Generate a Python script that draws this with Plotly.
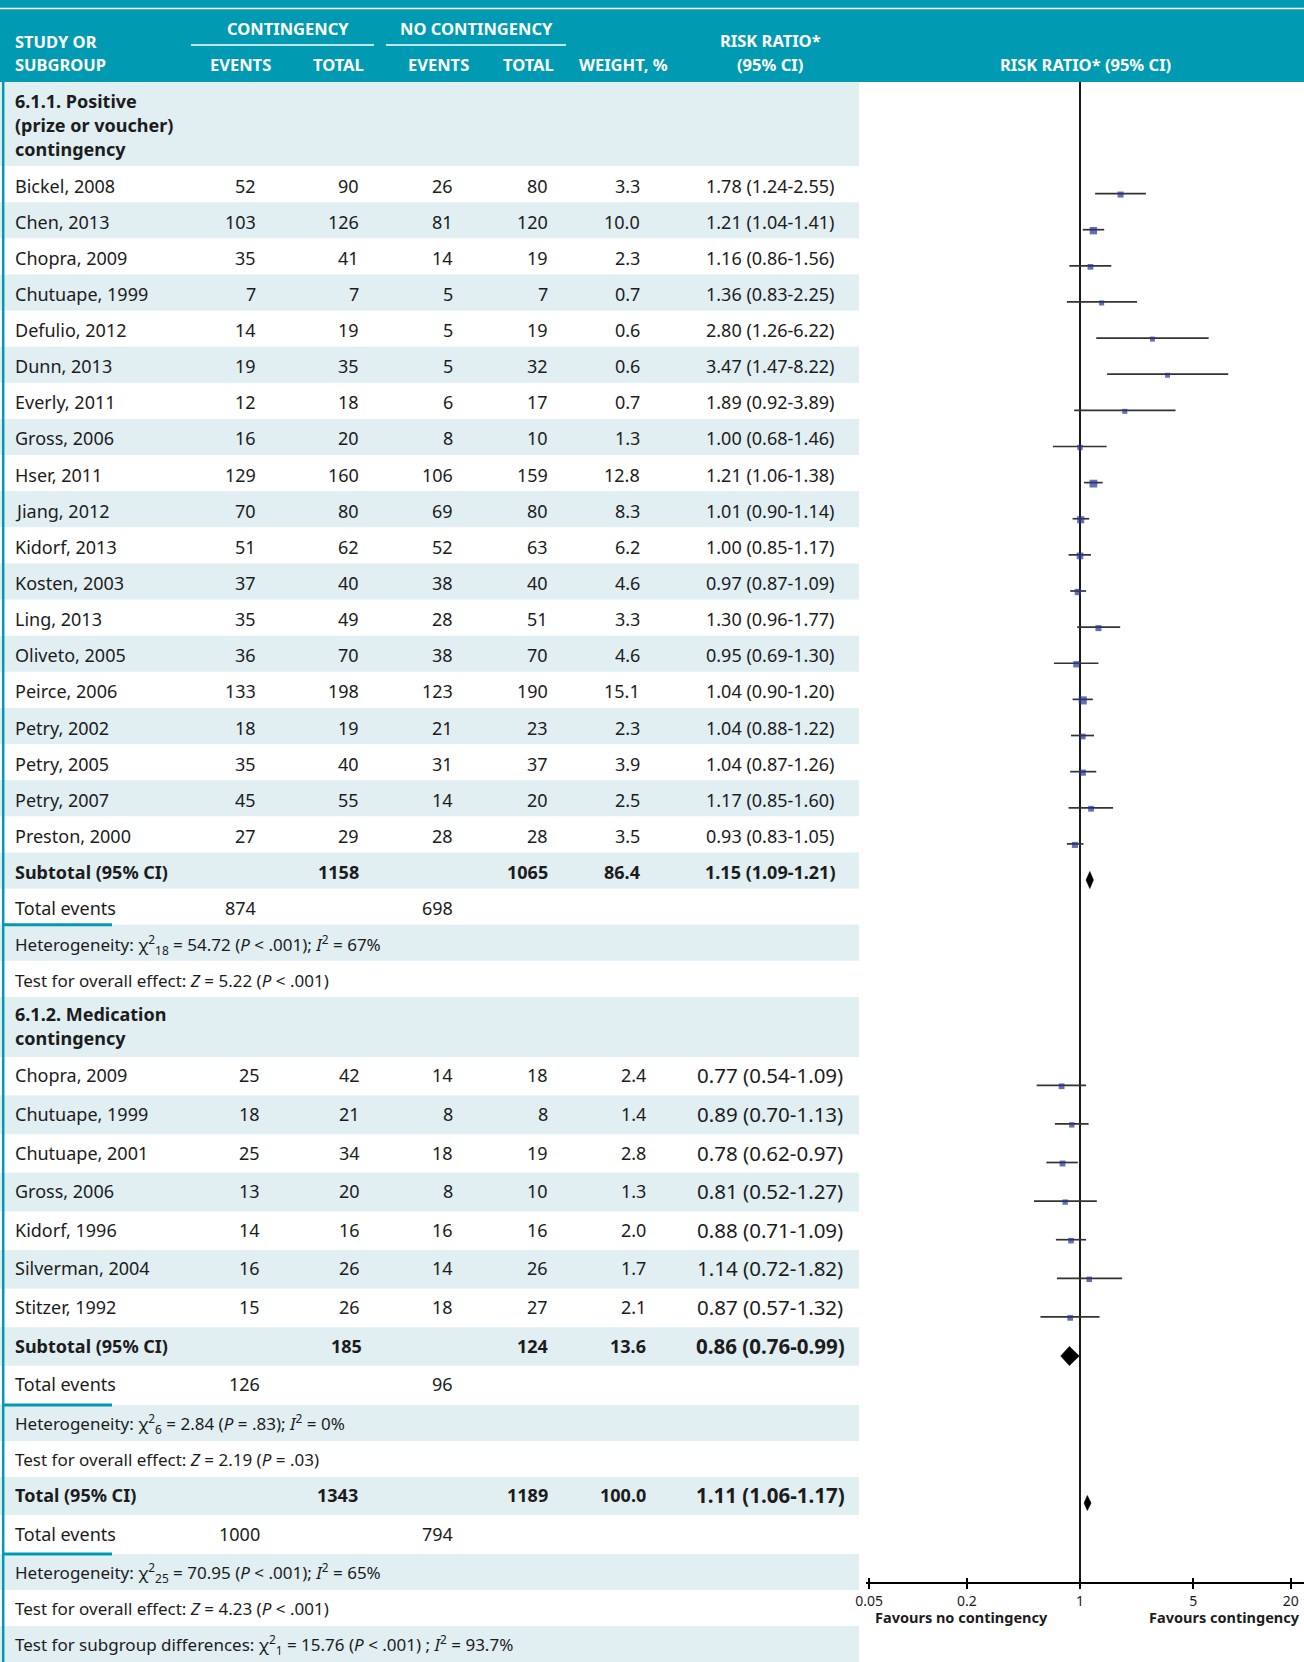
import math
import plotly.graph_objects as go

W, H = 1304, 1662
TEAL = "#009bb2"
BAND = "#e1eef2"
TXT = "#1c1c1c"
MARK = "#25338f"
FONT = "Noto Sans"

# ---------------- data ----------------
s1_study = ["Bickel, 2008", "Chen, 2013", "Chopra, 2009", "Chutuape, 1999", "Defulio, 2012",
            "Dunn, 2013", "Everly, 2011", "Gross, 2006", "Hser, 2011", "Jiang, 2012",
            "Kidorf, 2013", "Kosten, 2003", "Ling, 2013", "Oliveto, 2005", "Peirce, 2006",
            "Petry, 2002", "Petry, 2005", "Petry, 2007", "Preston, 2000"]
s1_ev_c = [52, 103, 35, 7, 14, 19, 12, 16, 129, 70, 51, 37, 35, 36, 133, 18, 35, 45, 27]
s1_tot_c = [90, 126, 41, 7, 19, 35, 18, 20, 160, 80, 62, 40, 49, 70, 198, 19, 40, 55, 29]
s1_ev_n = [26, 81, 14, 5, 5, 5, 6, 8, 106, 69, 52, 38, 28, 38, 123, 21, 31, 14, 28]
s1_tot_n = [80, 120, 19, 7, 19, 32, 17, 10, 159, 80, 63, 40, 51, 70, 190, 23, 37, 20, 28]
s1_weight = [3.3, 10.0, 2.3, 0.7, 0.6, 0.6, 0.7, 1.3, 12.8, 8.3, 6.2, 4.6, 3.3, 4.6, 15.1, 2.3, 3.9, 2.5, 3.5]
s1_rr = [1.78, 1.21, 1.16, 1.36, 2.80, 3.47, 1.89, 1.00, 1.21, 1.01, 1.00, 0.97, 1.30, 0.95, 1.04, 1.04, 1.04, 1.17, 0.93]
s1_lo = [1.24, 1.04, 0.86, 0.83, 1.26, 1.47, 0.92, 0.68, 1.06, 0.90, 0.85, 0.87, 0.96, 0.69, 0.90, 0.88, 0.87, 0.85, 0.83]
s1_hi = [2.55, 1.41, 1.56, 2.25, 6.22, 8.22, 3.89, 1.46, 1.38, 1.14, 1.17, 1.09, 1.77, 1.30, 1.20, 1.22, 1.26, 1.60, 1.05]

s2_study = ["Chopra, 2009", "Chutuape, 1999", "Chutuape, 2001", "Gross, 2006",
            "Kidorf, 1996", "Silverman, 2004", "Stitzer, 1992"]
s2_ev_c = [25, 18, 25, 13, 14, 16, 15]
s2_tot_c = [42, 21, 34, 20, 16, 26, 26]
s2_ev_n = [14, 8, 18, 8, 16, 14, 18]
s2_tot_n = [18, 8, 19, 10, 16, 26, 27]
s2_weight = [2.4, 1.4, 2.8, 1.3, 2.0, 1.7, 2.1]
s2_rr = [0.77, 0.89, 0.78, 0.81, 0.88, 1.14, 0.87]
s2_lo = [0.54, 0.70, 0.62, 0.52, 0.71, 0.72, 0.57]
s2_hi = [1.09, 1.13, 0.97, 1.27, 1.09, 1.82, 1.32]

# subtotal / total: [tot_c, tot_n, weight, rr, lo, hi, events_c, events_n]
sub1 = [1158, 1065, 86.4, 1.15, 1.09, 1.21, 874, 698]
sub2 = [185, 124, 13.6, 0.86, 0.76, 0.99, 126, 96]
total = [1343, 1189, 100.0, 1.11, 1.06, 1.17, 1000, 794]

het1 = "Heterogeneity: χ<sup>2</sup><sub>18</sub> = 54.72 (<i>P</i> &lt; .001); <i>I</i><sup>2</sup> = 67%"
test1 = "Test for overall effect: <i>Z</i> = 5.22 (<i>P</i> &lt; .001)"
het2 = "Heterogeneity: χ<sup>2</sup><sub>6</sub> = 2.84 (<i>P</i> = .83); <i>I</i><sup>2</sup> = 0%"
test2 = "Test for overall effect: <i>Z</i> = 2.19 (<i>P</i> = .03)"
het_t = "Heterogeneity: χ<sup>2</sup><sub>25</sub> = 70.95 (<i>P</i> &lt; .001); <i>I</i><sup>2</sup> = 65%"
test_t = "Test for overall effect: <i>Z</i> = 4.23 (<i>P</i> &lt; .001)"
subgrp = "Test for subgroup differences: χ<sup>2</sup><sub>1</sub> = 15.76 (<i>P</i> &lt; .001) ; <i>I</i><sup>2</sup> = 93.7%"

tick_vals = [0.05, 0.2, 1, 5, 20]
tick_text = ["0.05", "0.2", "1", "5", "20"]

# ---------------- helpers ----------------
shapes, ann = [], []


def px(x):
    return x / W


def py(y):
    return 1 - y / H


def rect(x0, y0, x1, y1, color):
    shapes.append(dict(type="rect", xref="paper", yref="paper", x0=px(x0), x1=px(x1),
                       y0=py(y1), y1=py(y0), fillcolor=color, line=dict(width=0), layer="below"))


def hline(x0, x1, y, color, width):
    shapes.append(dict(type="line", xref="paper", yref="paper", x0=px(x0), x1=px(x1),
                       y0=py(y), y1=py(y), line=dict(color=color, width=width)))


BODY = 18


def text(x, y, s, anchor="left", size=BODY, bold=False, color=TXT):
    if bold:
        s = "<b>" + s + "</b>"
    ann.append(dict(xref="paper", yref="paper", x=px(x), y=py(y), text=s, showarrow=False,
                    xanchor=anchor, yanchor="middle", borderpad=0,
                    font=dict(family=FONT, size=size, color=color)))


def fmt_rr(r, l, h):
    return f"{r:.2f} ({l:.2f}-{h:.2f})"


TABLE_R = 859
RR_CX = 770
STAT = 17
DY = 1.5  # visual centring of body text

# ---------------- header ----------------
rect(0, 0, W, 82, TEAL)
hline(0, W, 8.5, "white", 1.5)
HS = 16.5
text(14, 41.5, "STUDY OR", size=HS, bold=True, color="white")
text(14, 64.5, "SUBGROUP", size=HS, bold=True, color="white")
text(288, 29, "CONTINGENCY", "center", HS, True, "white")
text(476, 29, "NO CONTINGENCY", "center", HS, True, "white")
hline(191, 374, 45, "white", 1.5)
hline(386, 566, 45, "white", 1.5)
for cx, lab in [(241, "EVENTS"), (338, "TOTAL"), (438, "EVENTS"), (528, "TOTAL"), (623, "WEIGHT, %")]:
    text(cx, 64.5, lab, "center", HS, True, "white")
text(RR_CX, 40, "RISK RATIO*", "center", HS, True, "white")
text(RR_CX, 64.5, "(95% CI)", "center", HS, True, "white")
text(1085, 64.5, "RISK RATIO* (95% CI)", "center", HS, True, "white")

# ---------------- section 1 ----------------
R1 = 36.13
LX = 14
rect(0, 82, TABLE_R, 166, BAND)
text(LX, 101, "6.1.1. Positive", bold=True)
text(LX, 125, "(prize or voucher)", bold=True)
text(LX, 149.5, "contingency", bold=True)

ci_x, ci_y, mk_x, mk_y, mk_s = [], [], [], [], []
C1 = [257, 360, 454, 549, 641]
for i, name in enumerate(s1_study):
    y0 = 166 + i * R1
    if i % 2 == 1:
        rect(0, y0, TABLE_R, y0 + R1, BAND)
    yc = y0 + R1 / 2
    yt = yc + DY
    text(LX, yt, name)
    for cx, v in zip(C1, [s1_ev_c[i], s1_tot_c[i], s1_ev_n[i], s1_tot_n[i]]):
        text(cx, yt, str(v), "right")
    text(C1[4], yt, f"{s1_weight[i]:.1f}", "right")
    text(RR_CX, yt, fmt_rr(s1_rr[i], s1_lo[i], s1_hi[i]), "center")
    ym = yc + 9.5
    ci_x += [s1_lo[i], s1_hi[i], None]
    ci_y += [ym, ym, None]
    mk_x.append(s1_rr[i])
    mk_y.append(ym + 1)
    mk_s.append(4.2 + 1.0 * math.sqrt(s1_weight[i]))

k = len(s1_study)
y0 = 166 + k * R1
rect(0, y0, TABLE_R, y0 + R1, BAND)
yc_sub1 = y0 + R1 / 2
yt = yc_sub1 + DY
text(LX, yt, "Subtotal (95% CI)", bold=True)
text(C1[1], yt, str(sub1[0]), "right", bold=True)
text(C1[3], yt, str(sub1[1]), "right", bold=True)
text(C1[4], yt, f"{sub1[2]:.1f}", "right", bold=True)
text(RR_CX, yt, fmt_rr(sub1[3], sub1[4], sub1[5]), "center", bold=True)
y0 += R1
yt = y0 + R1 / 2 + DY
text(LX, yt, "Total events")
text(C1[0], yt, str(sub1[6]), "right")
text(C1[2], yt, str(sub1[7]), "right")
hline(2.5, 112, y0 + R1, TEAL, 3)
y0 += R1
rect(0, y0, TABLE_R, y0 + R1, BAND)
text(LX, y0 + R1 / 2 + DY, het1, size=STAT)
y0 += R1
text(LX, y0 + R1 / 2 + DY, test1, size=STAT)

# ---------------- section 2 ----------------
rect(0, 997, TABLE_R, 1057, BAND)
text(LX, 1014, "6.1.2. Medication", bold=True)
text(LX, 1038, "contingency", bold=True)
B2 = [1057, 1095.6, 1134.2, 1172.8, 1211.4, 1250, 1288.6, 1327.2, 1365.8, 1405,
      1441, 1477, 1515, 1554, 1590, 1626, 1662]
for j in range(len(B2) - 1):
    if j % 2 == 1:
        rect(0, B2[j], TABLE_R, B2[j + 1], BAND)
mid = [(B2[j] + B2[j + 1]) / 2 - 1.0 for j in range(len(B2) - 1)]
C2 = [261, 361, 454, 549, 647]
RS2 = 20.5
for i, name in enumerate(s2_study):
    yc = mid[i]
    text(LX, yc, name)
    for cx, v in zip(C2, [s2_ev_c[i], s2_tot_c[i], s2_ev_n[i], s2_tot_n[i]]):
        text(cx, yc, str(v), "right")
    text(C2[4], yc, f"{s2_weight[i]:.1f}", "right")
    text(RR_CX, yc, fmt_rr(s2_rr[i], s2_lo[i], s2_hi[i]), "center", size=RS2)
    ym = yc + 10
    ci_x += [s2_lo[i], s2_hi[i], None]
    ci_y += [ym, ym, None]
    mk_x.append(s2_rr[i])
    mk_y.append(ym + 1)
    mk_s.append(4.2 + 1.0 * math.sqrt(s2_weight[i]))

yc_sub2 = mid[7]
text(LX, yc_sub2, "Subtotal (95% CI)", bold=True)
text(C2[1] + 2, yc_sub2, str(sub2[0]), "right", bold=True)
text(C2[3], yc_sub2, str(sub2[1]), "right", bold=True)
text(C2[4], yc_sub2, f"{sub2[2]:.1f}", "right", bold=True)
text(RR_CX, yc_sub2, fmt_rr(sub2[3], sub2[4], sub2[5]), "center", size=RS2, bold=True)
text(LX, mid[8], "Total events")
text(C2[0], mid[8], str(sub2[6]), "right")
text(C2[2], mid[8], str(sub2[7]), "right")
hline(2.5, 112, B2[9], TEAL, 3)
text(LX, mid[9] + 1, het2, size=STAT)
text(LX, mid[10] + 1, test2, size=STAT)
yc_tot = mid[11]
text(LX, yc_tot, "Total (95% CI)", bold=True)
text(C2[1] - 2, yc_tot, str(total[0]), "right", bold=True)
text(C2[3], yc_tot, str(total[1]), "right", bold=True)
text(C2[4], yc_tot, f"{total[2]:.1f}", "right", bold=True)
text(RR_CX, yc_tot, fmt_rr(total[3], total[4], total[5]), "center", size=RS2, bold=True)
text(LX, mid[12], "Total events")
text(C2[0], mid[12], str(total[6]), "right")
text(C2[2], mid[12], str(total[7]), "right")
hline(2.5, 112, B2[13], TEAL, 3)
text(LX, mid[13] + 1, het_t, size=STAT)
text(LX, mid[14] + 1, test_t, size=STAT)
text(LX, mid[15] + 1, subgrp, size=STAT)

shapes.append(dict(type="line", xref="paper", yref="paper", x0=px(3.2), x1=px(3.2),
                   y0=py(1662), y1=py(82), line=dict(color=TEAL, width=2.5)))

# ---------------- forest plot ----------------
AX_Y = 1583
fig = go.Figure()
fig.add_trace(go.Scatter(x=[1, 1], y=[82, AX_Y], mode="lines",
                         line=dict(color="black", width=1.8), hoverinfo="skip", showlegend=False))
fig.add_trace(go.Scatter(x=ci_x, y=ci_y, mode="lines", line=dict(color="#333333", width=1.7),
                         hoverinfo="skip", showlegend=False))
fig.add_trace(go.Scatter(x=mk_x, y=mk_y, mode="markers",
                         marker=dict(symbol="square", size=mk_s, color=MARK, line=dict(width=0)),
                         hoverinfo="skip", showlegend=False))
for vals, yc, hh in [(sub1, yc_sub1 + 9.5, 8.5), (sub2, yc_sub2 + 10.5, 9.5), (total, yc_tot + 8, 7.5)]:
    r, l, h = vals[3], vals[4], vals[5]
    fig.add_trace(go.Scatter(x=[l, r, h, r, l], y=[yc, yc - hh, yc, yc + hh, yc], mode="lines",
                             fill="toself", fillcolor="black", line=dict(color="black", width=0.6),
                             hoverinfo="skip", showlegend=False))

text(961, 1617, "Favours no contingency", "center", 14.5, True)
text(1224, 1617, "Favours contingency", "center", 14.5, True)

SCALE = 162.0   # px per decade
X_ONE = 1080.0
X_L = 866.0
lo_log = (X_L - X_ONE) / SCALE
hi_log = (W - X_ONE) / SCALE
pos = (H - AX_Y) / H

axis_common = dict(type="log", range=[lo_log, hi_log], domain=[X_L / W, 1], anchor="free",
                   position=pos, showgrid=False, zeroline=False, tickvals=tick_vals,
                   ticktext=tick_text, tickcolor="black", tickwidth=1.5, ticklen=5,
                   automargin=False)

fig.update_layout(
    template="none",
    width=W, height=H, margin=dict(l=0, r=0, t=0, b=0, pad=0, autoexpand=False),
    paper_bgcolor="white", plot_bgcolor="rgba(0,0,0,0)",
    xaxis=dict(**axis_common, showline=True, linecolor="black", linewidth=1.6, ticks="outside",
               tickfont=dict(family=FONT, size=14, color=TXT)),
    xaxis2=dict(**axis_common, overlaying="x", showline=False, ticks="inside", showticklabels=False),
    yaxis=dict(range=[H, 0], domain=[0, 1], visible=False, fixedrange=True, automargin=False),
    shapes=shapes, annotations=ann, showlegend=False,
)
fig.add_trace(go.Scatter(x=[1], y=[-50], xaxis="x2", mode="markers", marker=dict(opacity=0),
                         hoverinfo="skip", showlegend=False))

fig.write_html("out.html", config={"displayModeBar": False},
               post_script="document.body.style.margin='0';document.body.style.padding='0';")
